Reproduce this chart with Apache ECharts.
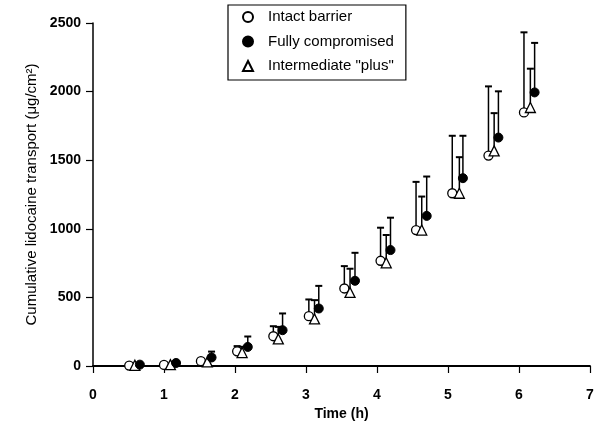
<!DOCTYPE html>
<html>
<head>
<meta charset="utf-8">
<script src="https://cdn.jsdelivr.net/npm/echarts@6/dist/echarts.min.js"></script>
<style>html,body{margin:0;padding:0;background:#fff}#c{width:610px;height:441px}</style>
</head>
<body>
<div id="c"></div>
<script>
// Data
const seriesNames = ['Intact barrier', 'Fully compromised', 'Intermediate "plus"'];
const xTicks = [0, 1, 2, 3, 4, 5, 6, 7];
const yTicks = [0, 500, 1000, 1500, 2000, 2500];

const intactTime = [0.51, 1.00, 1.52, 2.03, 2.54, 3.04, 3.54, 4.05, 4.55, 5.06, 5.57, 6.07];
const intactMean = [3, 8, 35, 107, 217, 363, 565, 767, 991, 1259, 1534, 1848];
const intactUpper = [null, null, null, 145, 290, 485, 728, 1008, 1342, 1678, 2038, 2432];

const fullyTime = [0.66, 1.17, 1.67, 2.18, 2.67, 3.18, 3.69, 4.19, 4.70, 5.21, 5.71, 6.22];
const fullyMean = [10, 22, 62, 139, 261, 419, 621, 845, 1094, 1369, 1665, 1994];
const fullyUpper = [null, null, 105, 215, 383, 584, 825, 1081, 1381, 1678, 2002, 2355];

const interTime = [0.59, 1.09, 1.61, 2.10, 2.61, 3.12, 3.62, 4.13, 4.63, 5.16, 5.65, 6.16];
const interMean = [5, 10, 30, 98, 197, 343, 536, 752, 991, 1259, 1568, 1884];
const interUpper = [null, null, null, 140, 285, 480, 709, 955, 1235, 1522, 1843, 2167];

function pts(t, m) { return t.map((x, i) => [x, m[i]]); }
function errs(t, m, u) {
  const out = [];
  t.forEach((x, i) => { if (u[i] != null) out.push([x, m[i], u[i]]); });
  return out;
}
function errSeries(name, data) {
  return {
    name: name, type: 'custom', z: 1, silent: true,
    renderItem: function (params, api) {
      const p0 = api.coord([api.value(0), api.value(1)]);
      const p1 = api.coord([api.value(0), api.value(2)]);
      return { type: 'group', children: [
        { type: 'line', shape: { x1: p0[0], y1: p0[1], x2: p1[0], y2: p1[1] }, style: { stroke: '#000', lineWidth: 1.5 } },
        { type: 'line', shape: { x1: p1[0] - 3.5, y1: p1[1], x2: p1[0] + 3.5, y2: p1[1] }, style: { stroke: '#000', lineWidth: 2 } }
      ]};
    },
    encode: { x: 0, y: [1, 2] },
    data: data
  };
}

const chart = echarts.init(document.getElementById('c'), null, { renderer: 'canvas' });
const font = '"Liberation Sans", Arial, Helvetica, sans-serif';
chart.setOption({
  backgroundColor: '#fff',
  animation: false,
  grid: { left: 93, top: 23, right: 20, bottom: 75, containLabel: false },
  legend: {
    data: seriesNames,
    orient: 'vertical',
    left: 228, top: 5,
    padding: [4, 12, 6, 14],
    itemGap: 8.5,
    itemWidth: 10, itemHeight: 10,
    borderColor: '#000', borderWidth: 1.2,
    backgroundColor: '#fff',
    textStyle: { fontFamily: font, fontSize: 15, color: '#000', lineHeight: 16, padding: [0, 0, 0, 10] }
  },
  xAxis: {
    type: 'value', min: xTicks[0], max: xTicks[xTicks.length - 1], interval: 1,
    name: 'Time (h)', nameLocation: 'middle', nameGap: 38,
    nameTextStyle: { fontFamily: font, fontSize: 14, fontWeight: 'bold', color: '#000' },
    axisLine: { onZero: false, lineStyle: { color: '#000', width: 1.8 } },
    axisTick: { show: true, length: 7, lineStyle: { color: '#000', width: 1.2 } },
    axisLabel: { fontFamily: font, fontSize: 14, fontWeight: 'bold', color: '#000', margin: 22,
      formatter: v => String(v) },
    splitLine: { show: false }
  },
  yAxis: {
    type: 'value', min: yTicks[0], max: yTicks[yTicks.length - 1], interval: 500,
    name: 'Cumulative lidocaine transport (\u03bcg/cm\u00b2)', nameLocation: 'middle', nameGap: 52,
    nameTextStyle: { fontFamily: font, fontSize: 15, color: '#000' },
    axisLine: { show: true, onZero: false, lineStyle: { color: '#000', width: 1.5 } },
    axisTick: { show: true, length: 7, lineStyle: { color: '#000', width: 1.2 } },
    axisLabel: { fontFamily: font, fontSize: 14, fontWeight: 'bold', color: '#000', margin: 12,
      formatter: v => String(v) },
    splitLine: { show: false }
  },
  series: [
    errSeries('e1', errs(intactTime, intactMean, intactUpper)),
    errSeries('e2', errs(fullyTime, fullyMean, fullyUpper)),
    errSeries('e3', errs(interTime, interMean, interUpper)),
    { name: seriesNames[0], type: 'scatter', z: 3, symbol: 'circle', symbolSize: 9,
      itemStyle: { color: '#fff', borderColor: '#000', borderWidth: 1.3, opacity: 1 },
      data: pts(intactTime, intactMean) },
    { name: seriesNames[1], type: 'scatter', z: 4, symbol: 'circle', symbolSize: 9,
      itemStyle: { color: '#000', borderColor: '#000', borderWidth: 1, opacity: 1 },
      data: pts(fullyTime, fullyMean) },
    { name: seriesNames[2], type: 'scatter', z: 3, symbol: 'triangle', symbolSize: 10,
      itemStyle: { color: '#fff', borderColor: '#000', borderWidth: 1.3, opacity: 1 },
      data: pts(interTime, interMean) }
  ]
});
</script>
</body>
</html>
